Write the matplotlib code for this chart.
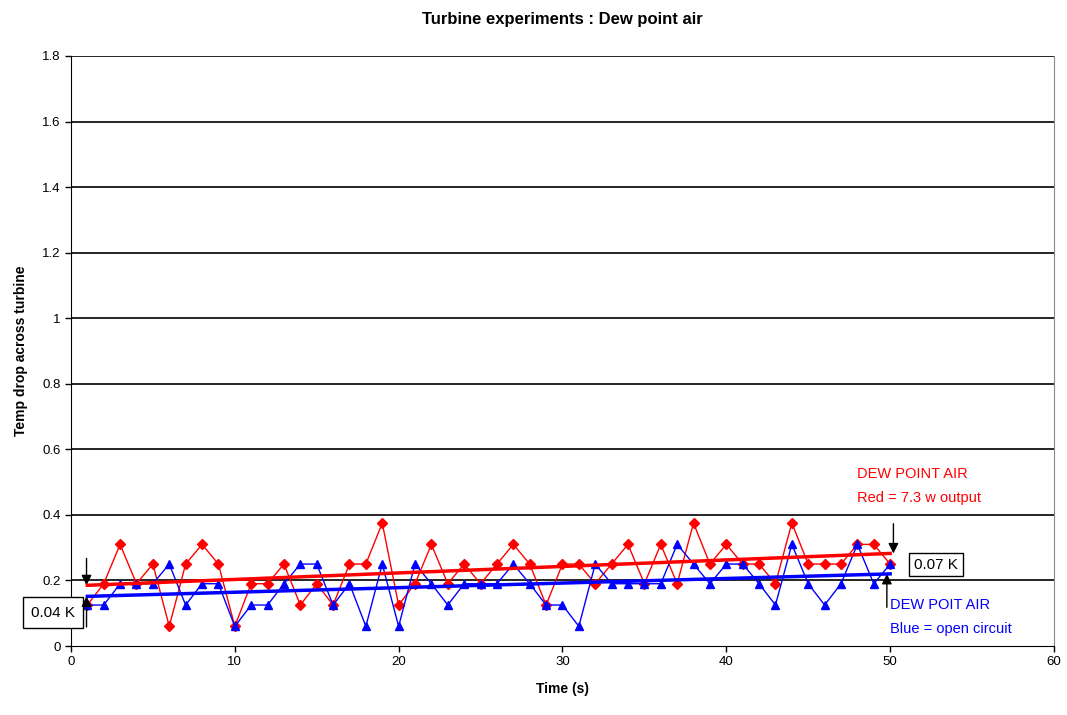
import numpy as np
import matplotlib
matplotlib.use('Agg')
import matplotlib.pyplot as plt

plt.rcParams['font.family'] = ['Liberation Sans', 'DejaVu Sans']

# time in seconds
time_s = np.arange(1, 51)

# red = 7.3 w output
red_drop = [0.125, 0.19, 0.31, 0.19, 0.25, 0.06, 0.25, 0.31, 0.25, 0.06,
            0.19, 0.19, 0.25, 0.125, 0.19, 0.125, 0.25, 0.25, 0.375, 0.125,
            0.19, 0.31, 0.19, 0.25, 0.19, 0.25, 0.31, 0.25, 0.125, 0.25,
            0.25, 0.19, 0.25, 0.31, 0.19, 0.31, 0.19, 0.375, 0.25, 0.31,
            0.25, 0.25, 0.19, 0.375, 0.25, 0.25, 0.25, 0.31, 0.31, 0.25]

# blue = open circuit
blue_drop = [0.125, 0.125, 0.19, 0.19, 0.19, 0.25, 0.125, 0.19, 0.19, 0.06,
             0.125, 0.125, 0.19, 0.25, 0.25, 0.125, 0.19, 0.06, 0.25, 0.06,
             0.25, 0.19, 0.125, 0.19, 0.19, 0.19, 0.25, 0.19, 0.125, 0.125,
             0.06, 0.25, 0.19, 0.19, 0.19, 0.19, 0.31, 0.25, 0.19, 0.25,
             0.25, 0.19, 0.125, 0.31, 0.19, 0.125, 0.19, 0.31, 0.19, 0.25]

fig = plt.figure(figsize=(10.67, 7.15), dpi=100)
ax = fig.add_axes([0.0665, 0.0965, 0.9213, 0.8252])

for y in np.arange(0.2, 1.81, 0.2):
    ax.axhline(y, color='black', lw=1.2, zorder=1)

ax.plot(time_s, red_drop, color='red', lw=1, marker='D', ms=5, zorder=3)
ax.plot(time_s, blue_drop, color='blue', lw=1, marker='^', ms=6, zorder=3)

# linear trendlines
t = np.array(time_s)
red_fit = np.polyval(np.polyfit(t, red_drop, 1), t)
blue_fit = np.polyval(np.polyfit(t, blue_drop, 1), t)
ax.plot(t, red_fit, color='red', lw=2.5, zorder=4)
ax.plot(t, blue_fit, color='blue', lw=2.5, zorder=4)

ax.set_xlim(0, 60)
ax.set_ylim(0, 1.8)
ax.set_xticks(range(0, 61, 10))
ax.set_yticks(np.arange(0, 1.81, 0.2))
ax.set_yticklabels(['0', '0.2', '0.4', '0.6', '0.8', '1', '1.2', '1.4', '1.6', '1.8'])
ax.tick_params(labelsize=9.5, length=4, direction='out', width=1)
ax.spines['top'].set_visible(False)
ax.spines['right'].set_color('#888888')

ax.set_title('Turbine experiments : Dew point air', fontsize=12, fontweight='bold', pad=23)
ax.set_xlabel('Time (s)', fontsize=10, fontweight='bold', labelpad=10)
ax.set_ylabel('Temp drop across turbine', fontsize=10, fontweight='bold', labelpad=10)

arrow = dict(arrowstyle='-|>,head_length=0.6,head_width=0.3', color='black', lw=1,
             shrinkA=0, shrinkB=0)
# gap at the start
ax.annotate('', xy=(0.95, red_fit[0]), xytext=(0.95, 0.267), arrowprops=arrow)
ax.annotate('', xy=(0.95, blue_fit[0]), xytext=(0.95, 0.058), arrowprops=arrow, zorder=6)
ax.text(-1.1, 0.102, '0.04 K', fontsize=11, ha='center', va='center',
        bbox=dict(boxstyle='square,pad=0.55', fc='white', ec='black', lw=1), zorder=5)
# gap at the end
ax.annotate('', xy=(50.2, red_fit[-1]), xytext=(50.2, 0.373), arrowprops=arrow)
ax.annotate('', xy=(49.8, blue_fit[-1]), xytext=(49.8, 0.118), arrowprops=arrow)
ax.text(52.8, 0.248, '0.07 K', fontsize=11, ha='center', va='center',
        bbox=dict(boxstyle='square,pad=0.3', fc='white', ec='black', lw=1), zorder=5)

ax.text(48.0, 0.545, 'DEW POINT AIR\nRed = 7.3 w output', color='red', fontsize=10.5,
        ha='left', va='top', linespacing=1.9)
ax.text(50.0, 0.145, 'DEW POIT AIR\nBlue = open circuit', color='blue', fontsize=10.5,
        ha='left', va='top', linespacing=1.9)

fig.savefig('out.png', dpi=100)
